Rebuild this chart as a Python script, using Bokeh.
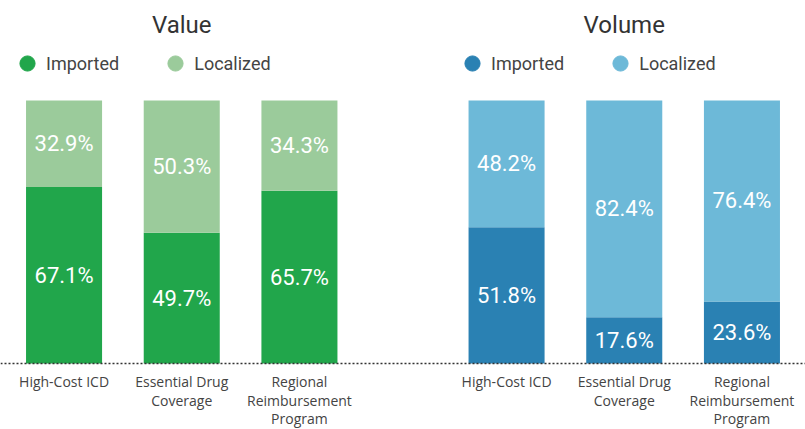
from bokeh.plotting import figure
from bokeh.models import FactorRange, Legend, LegendItem, Span, ColumnDataSource, Range1d
from bokeh.core.properties import value
from bokeh.embed import file_html
from bokeh.resources import INLINE

panels = ["Value", "Volume"]
categories = ["High-Cost ICD", "Essential Drug\nCoverage", "Regional\nReimbursement\nProgram"]
series = ["Imported", "Localized"]
value_imported = [67.1, 49.7, 65.7]
value_localized = [32.9, 50.3, 34.3]
volume_imported = [51.8, 17.6, 23.6]
volume_localized = [48.2, 82.4, 76.4]

panel_colors = {
    "Value": ["#21a64b", "#9bcb9b"],
    "Volume": ["#2a81b3", "#6db9d8"],
}
panel_data = {
    "Value": (value_imported, value_localized),
    "Volume": (volume_imported, volume_localized),
}

factors = [(pn, c) for pn in panels for c in categories]
x_range = FactorRange(*factors, factor_padding=0.0, group_padding=0.76,
                      range_padding=0.04, range_padding_units="absolute")

p = figure(x_range=x_range, y_range=Range1d(-25.1, 138.0), width=805, height=429,
           output_backend="svg", toolbar_location=None,
           x_axis_location=None, y_axis_location=None,
           min_border_left=0, min_border_right=0, min_border_top=0, min_border_bottom=0)
p.outline_line_color = None
p.xgrid.grid_line_color = None
p.ygrid.grid_line_color = None
p.background_fill_color = "white"

p.add_layout(Span(location=0, dimension="width", line_color="#333333",
                  line_width=1.5, line_dash="2 2"))

# category labels under each bar
cat_src = ColumnDataSource(dict(x=factors, label=[f[1] for f in factors]))
p.text(x="x", y=-3.3, text="label", source=cat_src, text_color="#444444",
       text_font=value("Open Sans"), text_font_size="14px",
       text_align="center", text_baseline="top", text_line_height=0.98)

legend_x = {"Value": 8, "Volume": 453}
for pn in panels:
    imp, loc = panel_data[pn]
    cols = panel_colors[pn]
    xs = [(pn, c) for c in categories]
    src = ColumnDataSource(dict(
        x=xs, Imported=imp, Localized=loc,
        imp_mid=[v / 2 for v in imp],
        loc_mid=[i + l / 2 for i, l in zip(imp, loc)],
        imp_lab=[f"{v:.1f}%" for v in imp],
        loc_lab=[f"{v:.1f}%" for v in loc],
    ))
    p.vbar_stack(series, x="x", width=0.646, color=cols, line_color=None, source=src)
    for ycol, tcol in (("imp_mid", "imp_lab"), ("loc_mid", "loc_lab")):
        p.text(x="x", y=ycol, text=tcol, source=src, text_color="white",
               text_font=value("Roboto"), text_font_size="22px",
               text_align="center", text_baseline="middle")
    p.text(x=[(pn, categories[1])], y=[128.5], text=[pn], text_color="#333333",
           text_font=value("Roboto"), text_font_size="24px",
           text_align="center", text_baseline="middle")
    items = []
    for s, c in zip(series, cols):
        # legend-only marker, kept outside the visible range
        r = p.scatter(x=[(pn, categories[0])], y=[-1000], size=15, color=c, marker="circle")
        items.append(LegendItem(label=s, renderers=[r]))
    lg = Legend(items=items, orientation="horizontal", location=(legend_x[pn], 347),
                glyph_width=38, glyph_height=38, label_standoff=0, spacing=37,
                padding=0, margin=0, border_line_color=None, background_fill_alpha=0,
                label_text_font="Roboto", label_text_font_size="18px",
                label_text_color="#444444", label_text_baseline="middle")
    p.add_layout(lg, "center")

open("out.html", "w").write(file_html(p, INLINE))
